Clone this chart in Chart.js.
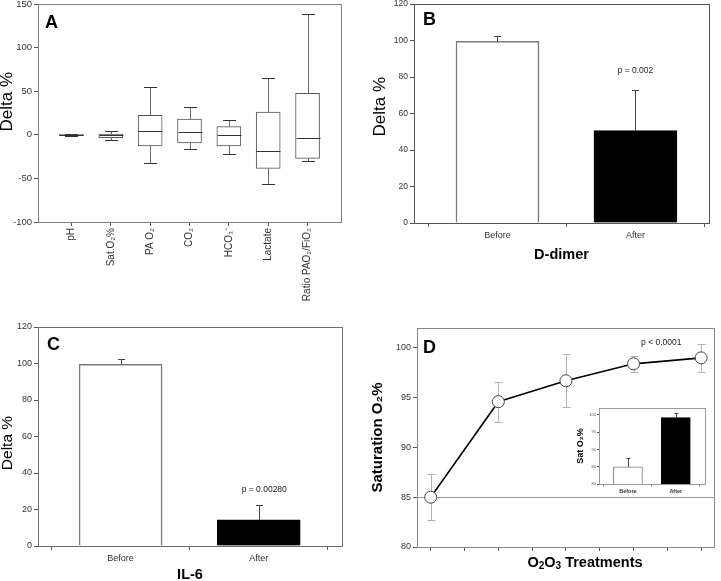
<!DOCTYPE html>
<html>
<head>
<meta charset="utf-8">
<script src="https://cdn.jsdelivr.net/npm/chart.js@4.4.0/dist/chart.umd.min.js"></script>
<style>
html,body{margin:0;padding:0;background:#fff;width:721px;height:581px;overflow:hidden;position:relative;}
canvas{position:absolute;}
</style>
</head>
<body>
<canvas id="cA" width="352" height="310" style="left:0px;top:0px"></canvas>
<canvas id="cB" width="361" height="290" style="left:360px;top:0px"></canvas>
<canvas id="cC" width="360" height="291" style="left:0px;top:290px"></canvas>
<canvas id="cD" width="361" height="291" style="left:360px;top:290px"></canvas>
<canvas id="cI" width="150" height="100" style="left:565px;top:398px"></canvas>
<script>
// ---------- DATA ----------
// Panel A (box plots of Delta %)
const aCategories = ['pH', 'Sat.O₂%', 'PA O₂', 'CO₂', 'HCO₃⁻', 'Lactate', 'Ratio PAO₂/FiO₂'];
const aWhiskerLow  = [-1.5, -5.5, -32.7, -15.9, -22.4, -56.0, -30.0];
const aQ1          = [-1.0, -3.3, -12.8,  -9.4, -12.8, -38.5, -27.0];
const aMedian      = [ 0.0,  0.0,   4.4,   3.2,  -0.6, -19.0,  -4.0];
const aQ3          = [ 0.5,  0.9,  22.3,  18.1,   9.3,  26.1,  47.6];
const aWhiskerHigh = [ 1.0,  4.0,  54.8,  31.5,  17.0,  64.8, 138.1];
const aYTicks = [-100, -50, 0, 50, 100, 150];

// Panel B (D-dimer)
const bCategories = ['Before', 'After'];
const bMeans  = [99.6, 50.6];
const bErrors = [3.1, 22.3];
const bPText = 'p = 0.002';
const bPPos = [1, 83.3];

// Panel C (IL-6)
const cCategories = ['Before', 'After'];
const cMeans  = [99.5, 14.3];
const cErrors = [3.0, 8.2];
const cPText = 'p = 0.00280';
const cPPos = [1.04, 30.7];

const barYTicks = [0, 20, 40, 60, 80, 100, 120];
const barXTicks = [-0.5, 0, 0.5, 1, 1.5];

// Panel D (Saturation O2 over treatments)
const dTreatments = [1, 2, 3, 4, 5];
const dSaturation = [85.0, 94.6, 96.7, 98.4, 99.0];
const dSatError   = [2.3, 2.0, 2.65, 0.8, 1.4];
const dBaseline = 85;
const dYTicks = [80, 85, 90, 95, 100];
const dXTicks = [1, 1.5, 2, 2.5, 3, 3.5, 4, 4.5, 5];
const dPText = 'p < 0.0001';
const dPPos = [4.41, 100.5];

// Inset (Sat O2 before/after)
const insetCategories = ['Before', 'After'];
const insetMeans  = [85.0, 99.2];
const insetErrors = [2.4, 1.4];
const insetYTicks = [80, 85, 90, 95, 100];

// ---------- HELPERS ----------
const FONT = "'Liberation Sans', Arial, Helvetica, sans-serif";
Chart.defaults.font.family = FONT;
Chart.defaults.color = '#333';

const toTicks = arr => arr.map(v => ({value: v}));
const noPad = s => { s.paddingTop = 0; s.paddingBottom = 0; s.paddingLeft = 0; s.paddingRight = 0; };

function framePlugin(color) {
  return {
    id: 'frame',
    beforeDatasetsDraw(chart) {
      const {ctx, chartArea: a} = chart;
      const l = Math.round(a.left) + 0.5, t = Math.round(a.top) + 0.5;
      const r = Math.round(a.right) + 0.5, b = Math.round(a.bottom) + 0.5;
      ctx.save();
      ctx.strokeStyle = color; ctx.lineWidth = 1;
      ctx.strokeRect(l, t, r - l, b - t);
      ctx.restore();
    }
  };
}

function drawParts(ctx, parts, font, subFont, subShift) {
  let w = 0;
  parts.forEach(p => { ctx.font = p.sub ? subFont : font; w += ctx.measureText(p.t).width; });
  let x = -w / 2;
  ctx.textAlign = 'left';
  parts.forEach(p => {
    ctx.font = p.sub ? subFont : font;
    ctx.fillText(p.t, x, p.sub ? subShift : 0);
    x += ctx.measureText(p.t).width;
  });
}

function textPlugin(items) {
  return {
    id: 'texts',
    afterDraw(chart) {
      const {ctx, scales} = chart;
      items.forEach(it => {
        ctx.save();
        let x = it.x, y = it.y;
        if (it.dataX !== undefined) x = scales.x.getPixelForValue(it.dataX);
        if (it.dataY !== undefined) y = scales.y.getPixelForValue(it.dataY);
        ctx.translate(x, y);
        if (it.rotate) ctx.rotate(it.rotate);
        ctx.fillStyle = it.color || '#000';
        ctx.textAlign = it.align || 'center';
        ctx.textBaseline = it.baseline || 'middle';
        ctx.font = it.font;
        if (it.parts) drawParts(ctx, it.parts, it.font, it.subFont, it.subShift);
        else ctx.fillText(it.text, 0, 0);
        ctx.restore();
      });
    }
  };
}

function barErrorPlugin(means, errors, cap, color) {
  return {
    id: 'errs',
    afterDatasetsDraw(chart) {
      const {ctx, scales: {x, y}} = chart;
      ctx.save();
      ctx.strokeStyle = color; ctx.lineWidth = 1;
      means.forEach((m, i) => {
        const px = Math.round(x.getPixelForValue(i)) + 0.5;
        const y0 = y.getPixelForValue(m);
        const y1 = Math.round(y.getPixelForValue(m + errors[i])) + 0.5;
        ctx.beginPath();
        ctx.moveTo(px, y0); ctx.lineTo(px, y1);
        ctx.moveTo(px - cap, y1); ctx.lineTo(px + cap, y1);
        ctx.stroke();
      });
      ctx.restore();
    }
  };
}

const boxPlugin = {
  id: 'boxes',
  afterDatasetsDraw(chart) {
    const {ctx, scales: {x, y}} = chart;
    ctx.save();
    ctx.lineWidth = 1;
    aCategories.forEach((c, i) => {
      const px = Math.round(x.getPixelForValue(i)) + 0.5;
      const lo = Math.round(y.getPixelForValue(aWhiskerLow[i])) + 0.5;
      const hi = Math.round(y.getPixelForValue(aWhiskerHigh[i])) + 0.5;
      const q1 = y.getPixelForValue(aQ1[i]);
      const q3 = y.getPixelForValue(aQ3[i]);
      const md = Math.round(y.getPixelForValue(aMedian[i])) + 0.5;
      ctx.strokeStyle = '#6a6a6a';
      ctx.beginPath();
      ctx.moveTo(px, q3); ctx.lineTo(px, hi);
      ctx.moveTo(px, q1); ctx.lineTo(px, lo);
      ctx.stroke();
      ctx.strokeStyle = '#333';
      ctx.beginPath();
      ctx.moveTo(px - 6.5, hi); ctx.lineTo(px + 6.5, hi);
      ctx.moveTo(px - 6.5, lo); ctx.lineTo(px + 6.5, lo);
      ctx.moveTo(px - 12, md); ctx.lineTo(px + 12, md);
      ctx.stroke();
    });
    ctx.restore();
  }
};

const dErrorPlugin = {
  id: 'derrs',
  beforeDatasetsDraw(chart) {
    const {ctx, chartArea: a, scales: {x, y}} = chart;
    ctx.save();
    // reference line at baseline value
    const yb = Math.round(y.getPixelForValue(dBaseline)) + 0.5;
    ctx.strokeStyle = '#9a9a9a'; ctx.lineWidth = 1;
    ctx.beginPath(); ctx.moveTo(a.left, yb); ctx.lineTo(a.right, yb); ctx.stroke();
    // error bars
    ctx.strokeStyle = '#b4b4b4';
    dTreatments.forEach((t, i) => {
      const px = Math.round(x.getPixelForValue(t)) + 0.5;
      const y0 = Math.round(y.getPixelForValue(dSaturation[i] - dSatError[i])) + 0.5;
      const y1 = Math.round(y.getPixelForValue(dSaturation[i] + dSatError[i])) + 0.5;
      ctx.beginPath();
      ctx.moveTo(px, y0); ctx.lineTo(px, y1);
      ctx.moveTo(px - 4, y0); ctx.lineTo(px + 4, y0);
      ctx.moveTo(px - 4, y1); ctx.lineTo(px + 4, y1);
      ctx.stroke();
    });
    ctx.restore();
  }
};

const baseOpts = {
  responsive: false,
  animation: false,
  devicePixelRatio: 1,
  events: []
};
const noLegend = {legend: {display: false}, tooltip: {enabled: false}};

function yAxis(min, max, ticks, width, fontSize, frameColor, tickLen, extra) {
  return Object.assign({
    min, max,
    afterBuildTicks: s => { s.ticks = toTicks(ticks); },
    afterFit: s => { s.width = width; noPad(s); },
    ticks: {padding: 2, color: '#333', font: {size: fontSize}},
    grid: {drawOnChartArea: false, tickLength: tickLen, tickColor: '#555'},
    border: {color: frameColor}
  }, extra || {});
}

function barXAxis(min, max, cats, height, fontSize, frameColor, tickLen, padding, extra) {
  return Object.assign({
    type: 'linear', min, max, offset: false,
    afterBuildTicks: s => { s.ticks = toTicks(barXTicks); },
    afterFit: s => { s.height = height; noPad(s); },
    ticks: {autoSkip: false, maxRotation: 0, minRotation: 0, padding, color: '#333', font: {size: fontSize},
      callback: v => Number.isInteger(v) ? cats[v] : ''},
    grid: {offset: false, drawOnChartArea: false, tickLength: tickLen,
      tickColor: c => (c.tick && Number.isInteger(c.tick.value)) ? 'rgba(0,0,0,0)' : '#555'},
    border: {color: frameColor}
  }, extra || {});
}

// ---------- PANEL A ----------
new Chart(document.getElementById('cA'), {
  type: 'bar',
  data: {datasets: [{
    label: 'Delta %',
    data: aCategories.map((c, i) => ({x: i, y: [aQ1[i], aQ3[i]]})),
    backgroundColor: '#fff', borderColor: '#555', borderWidth: 1, borderSkipped: false, barThickness: 24
  }]},
  options: Object.assign({}, baseOpts, {
    layout: {padding: {left: 0, top: 4, right: 11, bottom: 0}},
    plugins: noLegend,
    scales: {
      x: {
        type: 'linear', min: -0.85, max: 6.85, offset: false,
        afterBuildTicks: s => { s.ticks = toTicks(aCategories.map((c, i) => i)); },
        afterFit: s => { s.height = 88; noPad(s); },
        ticks: {autoSkip: false, minRotation: 90, maxRotation: 90, padding: 2, color: '#333', font: {size: 10},
          callback: v => aCategories[v] !== undefined ? aCategories[v] : ''},
        grid: {offset: false, drawOnChartArea: false, tickLength: 4, tickColor: '#555'},
        border: {color: '#808080'}
      },
      y: yAxis(-100, 150, aYTicks, 38, 9.5, '#808080', 4)
    }
  }),
  plugins: [framePlugin('#808080'), boxPlugin, textPlugin([
    {text: 'A', x: 45, y: 28, font: 'bold 18px ' + FONT, align: 'left', baseline: 'alphabetic'},
    {text: 'Delta %', x: 7.5, y: 101.7, rotate: -Math.PI / 2, font: '17px ' + FONT}
  ])]
});

// ---------- PANEL B ----------
new Chart(document.getElementById('cB'), {
  type: 'bar',
  data: {datasets: [{
    label: 'D-dimer',
    data: bMeans.map((v, i) => ({x: i, y: v})),
    backgroundColor: ['#ffffff', '#000000'], borderColor: ['#7a7a7a', '#000000'],
    borderWidth: 1.5, borderSkipped: 'start', barThickness: 83
  }]},
  options: Object.assign({}, baseOpts, {
    layout: {padding: {left: 11, top: 4, right: 12, bottom: 0}},
    plugins: noLegend,
    scales: {
      x: barXAxis(-0.605, 1.533, bCategories, 67, 9, '#555', 4, 3, {
        title: {display: true, text: 'D-dimer', color: '#000', font: {size: 14.5, weight: 'bold', lineHeight: 1}, padding: {top: 0, bottom: 28}}
      }),
      y: yAxis(0, 120, barYTicks, 43, 8.5, '#555', 4)
    }
  }),
  plugins: [framePlugin('#555'), barErrorPlugin(bMeans, bErrors, 3.5, '#444'), textPlugin([
    {text: 'B', x: 63, y: 25, font: 'bold 18px ' + FONT, align: 'left', baseline: 'alphabetic'},
    {text: 'Delta %', x: 20, y: 106.7, rotate: -Math.PI / 2, font: '17px ' + FONT},
    {text: bPText, dataX: bPPos[0], dataY: bPPos[1], font: '8.5px ' + FONT, color: '#222'}
  ])]
});

// ---------- PANEL C ----------
new Chart(document.getElementById('cC'), {
  type: 'bar',
  data: {datasets: [{
    label: 'IL-6',
    data: cMeans.map((v, i) => ({x: i, y: v})),
    backgroundColor: ['#ffffff', '#000000'], borderColor: ['#7a7a7a', '#000000'],
    borderWidth: 1.5, borderSkipped: 'start', barThickness: 83
  }]},
  options: Object.assign({}, baseOpts, {
    layout: {padding: {left: 0, top: 37, right: 18, bottom: 0}},
    plugins: noLegend,
    scales: {
      x: barXAxis(-0.598, 1.603, cCategories, 35, 9, '#707070', 4, 3, {
        title: {display: true, text: 'IL-6', color: '#000', font: {size: 14.5, weight: 'bold', lineHeight: 0.85}, padding: {top: 0, bottom: 0}}
      }),
      y: yAxis(0, 120, barYTicks, 38, 9, '#707070', 4)
    }
  }),
  plugins: [framePlugin('#707070'), barErrorPlugin(cMeans, cErrors, 3.5, '#444'), textPlugin([
    {text: 'C', x: 47, y: 60, font: 'bold 18px ' + FONT, align: 'left', baseline: 'alphabetic'},
    {text: 'Delta %', x: 7.5, y: 153, rotate: -Math.PI / 2, font: '15.5px ' + FONT},
    {text: cPText, dataX: cPPos[0], dataY: cPPos[1], font: '8.5px ' + FONT, color: '#222'}
  ])]
});

// ---------- PANEL D ----------
new Chart(document.getElementById('cD'), {
  type: 'line',
  data: {datasets: [{
    label: 'Saturation O₂%',
    data: dTreatments.map((t, i) => ({x: t, y: dSaturation[i]})),
    borderColor: '#000', borderWidth: 1.6, tension: 0,
    pointRadius: 6, pointBackgroundColor: '#fff', pointBorderColor: '#444', pointBorderWidth: 1
  }]},
  options: Object.assign({}, baseOpts, {
    layout: {padding: {left: 10, top: 38, right: 1, bottom: 0}},
    plugins: noLegend,
    scales: {
      x: {
        type: 'linear', min: 0.797, max: 5.19,
        afterBuildTicks: s => { s.ticks = toTicks(dXTicks); },
        afterFit: s => { s.height = 34; noPad(s); },
        ticks: {autoSkip: false, maxRotation: 0, callback: () => ''},
        grid: {drawOnChartArea: false, tickLength: 4, tickColor: '#555'},
        border: {color: '#888'}
      },
      y: yAxis(80, 102, dYTicks, 47, 9, '#888', 4, {
        title: {display: true, text: 'Saturation O₂%', color: '#000', font: {size: 15, weight: 'bold', lineHeight: 1}, padding: 0}
      })
    }
  }),
  plugins: [framePlugin('#888'), dErrorPlugin, textPlugin([
    {text: 'D', x: 63, y: 63, font: 'bold 18px ' + FONT, align: 'left', baseline: 'alphabetic'},
    {text: dPText, dataX: dPPos[0], dataY: dPPos[1], font: '8.5px ' + FONT, color: '#222'},
    {x: 225, y: 272.7, font: 'bold 14.5px ' + FONT, subFont: 'bold 10px ' + FONT, subShift: 4,
      parts: [{t: 'O'}, {t: '2', sub: true}, {t: 'O'}, {t: '3', sub: true}, {t: ' Treatments'}]}
  ])]
});

// ---------- INSET ----------
new Chart(document.getElementById('cI'), {
  type: 'bar',
  data: {datasets: [{
    label: 'Sat O₂%',
    data: insetMeans.map((v, i) => ({x: i, y: v})),
    backgroundColor: ['#ffffff', '#000000'], borderColor: ['#7a7a7a', '#000000'],
    borderWidth: 1, borderSkipped: 'start', barThickness: 29
  }]},
  options: Object.assign({}, baseOpts, {
    layout: {padding: {left: 11, top: 10, right: 10, bottom: 0}},
    plugins: noLegend,
    scales: {
      x: barXAxis(-0.604, 1.61, insetCategories, 14, 5.5, '#999', 2, 2, {
        ticks: {autoSkip: false, maxRotation: 0, minRotation: 0, padding: 2, color: '#333', font: {size: 5.5, weight: 'bold'},
          callback: v => Number.isInteger(v) ? insetCategories[v] : ''}
      }),
      y: yAxis(80, 102, insetYTicks, 23, 4, '#999', 2, {
        ticks: {padding: 1, color: '#555', font: {size: 4}},
        title: {display: true, text: 'Sat O₂%', color: '#000', font: {size: 9, weight: 'bold', lineHeight: 1}, padding: 0}
      })
    }
  }),
  plugins: [framePlugin('#999'), barErrorPlugin(insetMeans, insetErrors, 2, '#444')]
});
</script>
</body>
</html>
